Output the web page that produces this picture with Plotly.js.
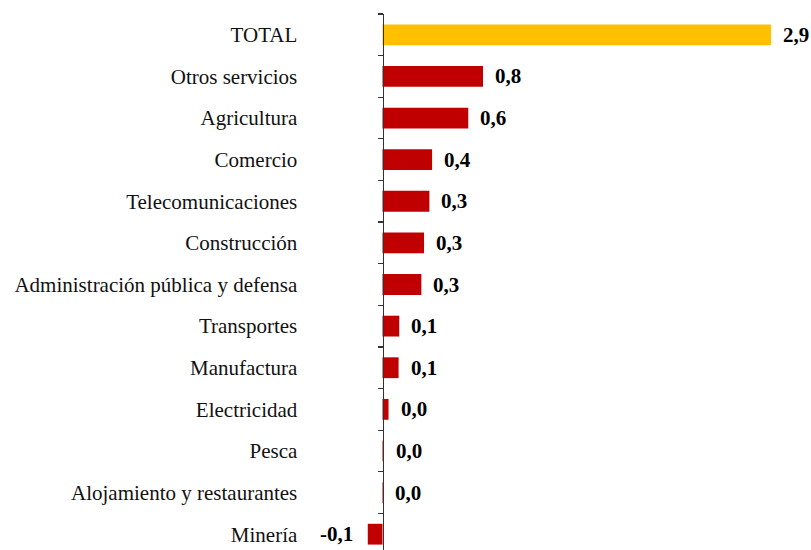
<!DOCTYPE html>
<html>
<head>
<meta charset="utf-8">
<script src="https://cdn.plot.ly/plotly-3.0.1.min.js"></script>
<style>html,body{margin:0;padding:0;background:#fff;}#chart{width:811px;height:550px;}</style>
</head>
<body>
<div id="chart"></div>
<script>
// Categories from bottom to top
const categories = ["Minería","Alojamiento y restaurantes","Pesca","Electricidad","Manufactura","Transportes","Administración pública y defensa","Construcción","Telecomunicaciones","Comercio","Agricultura","Otros servicios","TOTAL"];
const values = [-0.11, 0.005, 0.01, 0.045, 0.12, 0.125, 0.29, 0.31, 0.35, 0.37, 0.64, 0.75, 2.9];
const valueLabels = ["-0,1","0,0","0,0","0,0","0,1","0,1","0,3","0,3","0,3","0,4","0,6","0,8","2,9"];

const RED = "#C00000", GOLD = "#FFC000";
const colors = categories.map(c => c === "TOTAL" ? GOLD : RED);
const SERIF = "'Liberation Serif', 'Times New Roman', Times, serif";

const W = 811, H = 550;
const mL = 300, mR = 5, mT = 14, mB = 0;
const plotW = W - mL - mR;
const zeroPx = 382.5;      // pixel x of zero line
const k = 134;             // pixels per unit
const xr = [-(zeroPx - mL) / k, (W - mR - zeroPx) / k];
const axisPos = (zeroPx - mL) / plotW;

const annotations = values.map((v, i) => ({
  x: v, y: categories[i], xref: "x", yref: "y",
  text: "<b>" + valueLabels[i] + "</b>", showarrow: false,
  xanchor: v < 0 ? "right" : "left",
  xshift: v < 0 ? -13 : 10, yshift: 0,
  font: {family: SERIF, size: 21, color: "#000"}
}));

const trace = {
  type: "bar", orientation: "h",
  x: values, y: categories,
  marker: {color: colors},
  hoverinfo: "none"
};

const layout = {
  width: W, height: H,
  margin: {l: mL, r: mR, t: mT, b: mB, autoexpand: false},
  paper_bgcolor: "#fff", plot_bgcolor: "#fff",
  showlegend: false,
  bargap: 0.5,
  xaxis: {range: xr, visible: false, fixedrange: true, zeroline: false, showgrid: false},
  yaxis: {
    type: "category", categoryorder: "array", categoryarray: categories,
    range: [-0.38, 12.5],
    anchor: "free", position: axisPos,
    showline: true, linecolor: "#333", linewidth: 1.5,
    ticks: "outside", ticklen: 5, tickwidth: 1.3, tickcolor: "#333",
    tickson: "boundaries",
    ticklabelstandoff: 81,
    showgrid: false, zeroline: false,
    tickfont: {family: SERIF, size: 21, color: "#111"},
    automargin: false
  },
  annotations: annotations
};

Plotly.newPlot("chart", [trace], layout, {staticPlot: true, displayModeBar: false});
</script>
</body>
</html>
